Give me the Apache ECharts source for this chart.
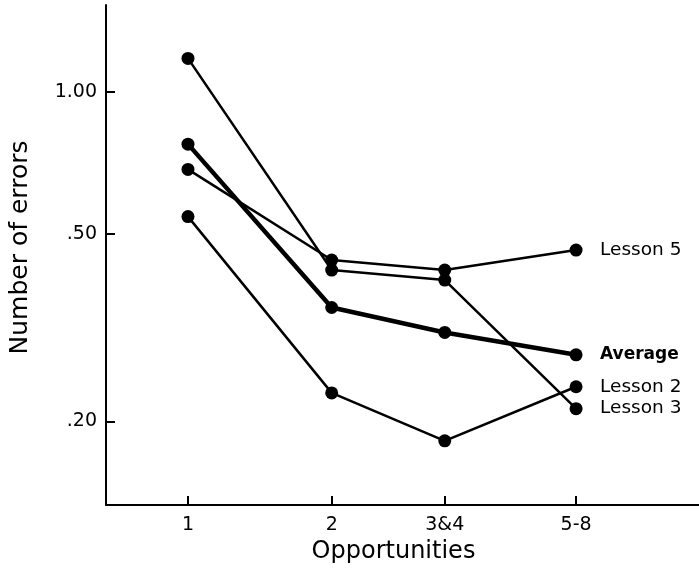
<!DOCTYPE html>
<html><head><meta charset="utf-8">
<script src="https://cdn.jsdelivr.net/npm/echarts@6/dist/echarts.min.js"></script>
<style>html,body{margin:0;padding:0;background:#fff}#c{width:699px;height:573px}</style>
</head><body><div id="c"></div>
<script>
// Opportunity groups and their mean opportunity number (x is a log scale)
const categories = ['1', '2', '3&4', '5-8'];
const categoryPositions = [1, 2, 3.45, 6.5];
// Number of errors per series
const lesson5 = [0.685, 0.440, 0.419, 0.462];
const lesson3 = [1.178, 0.419, 0.399, 0.213];
const average = [0.775, 0.349, 0.309, 0.277];
const lesson2 = [0.544, 0.230, 0.182, 0.237];
// y tick labels
const yTickValues = [0.2, 0.5, 1.0];
const yTickLabels = ['.20', '.50', '1.00'];

const FONT = 'DejaVu Sans';
function pairs(vals) { return vals.map((v, i) => [categoryPositions[i], v]); }
function nearestLabel(v, vals, labels) {
  let best = 0, bd = Infinity;
  vals.forEach((t, i) => { const d = Math.abs(Math.log(v) - Math.log(t)); if (d < bd) { bd = d; best = i; } });
  return bd < 0.05 ? labels[best] : '';
}
function makeSeries(name, vals, width, bold) {
  return {
    name, type: 'line', data: pairs(vals),
    symbol: 'circle', symbolSize: 13,
    lineStyle: { color: '#000', width },
    itemStyle: { color: '#000' },
    emphasis: { disabled: true },
    animation: false,
    endLabel: {
      show: true, formatter: name, distance: 24,
      color: '#000', fontFamily: FONT, fontSize: bold ? 17 : 18.5,
      fontWeight: bold ? 'bold' : 'normal'
    }
  };
}
const chart = echarts.init(document.getElementById('c'), null, { renderer: 'canvas' });
chart.setOption({
  backgroundColor: '#fff',
  animation: false,
  grid: { left: 106, right: 0, top: 5, bottom: 68, containLabel: false, outerBoundsMode: 'none' },
  xAxis: {
    type: 'log', logBase: 10, min: 0.6734, max: 11.76,
    name: 'Opportunities', nameLocation: 'middle', nameGap: 35,
    nameTextStyle: { color: '#000', fontFamily: FONT, fontSize: 24, padding: [0, 18, 0, 0] },
    axisLine: { show: true, lineStyle: { color: '#000', width: 2 } },
    axisTick: { show: true, inside: true, length: 9, customValues: categoryPositions, lineStyle: { color: '#000', width: 2 } },
    axisLabel: { show: true, customValues: categoryPositions, margin: 11, color: '#000', fontFamily: FONT, fontSize: 19,
      formatter: v => nearestLabel(v, categoryPositions, categories) },
    splitLine: { show: false }, minorTick: { show: false }
  },
  yAxis: {
    type: 'log', logBase: 10, min: 0.13305, max: 1.5288,
    name: 'Number of errors', nameLocation: 'middle', nameGap: 73, nameRotate: 90,
    nameTextStyle: { color: '#000', fontFamily: FONT, fontSize: 25, padding: [0, 0, 0, 15] },
    axisLine: { show: true, lineStyle: { color: '#000', width: 2 } },
    axisTick: { show: true, inside: true, length: 9, customValues: yTickValues, lineStyle: { color: '#000', width: 2 } },
    axisLabel: { show: true, customValues: yTickValues, margin: 9, color: '#000', fontFamily: FONT, fontSize: 19,
      formatter: v => nearestLabel(v, yTickValues, yTickLabels) },
    splitLine: { show: false }, minorTick: { show: false }
  },
  series: [
    makeSeries('Lesson 5', lesson5, 2.5, false),
    makeSeries('Lesson 3', lesson3, 2.5, false),
    makeSeries('Average', average, 4.5, true),
    makeSeries('Lesson 2', lesson2, 2.5, false)
  ]
});
</script></body></html>
